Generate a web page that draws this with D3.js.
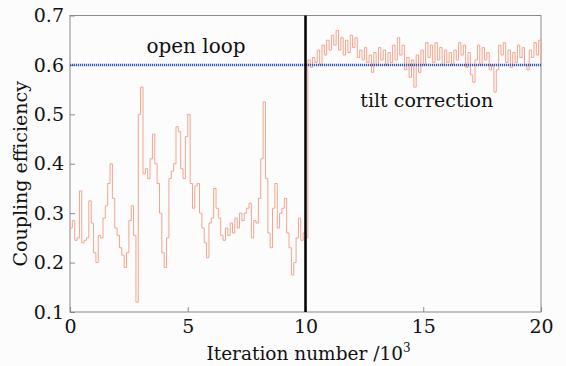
<!DOCTYPE html>
<html lang="en">
<head>
<meta charset="UTF-8">
<title>Coupling efficiency</title>
<script src="https://d3js.org/d3.v7.min.js"></script>
<style>
  body { margin: 0; background: #fcfcfc; }
  text { font-family: "DejaVu Serif", serif; fill: #111; }
</style>
</head>
<body>
<svg width="566" height="366"></svg>
<script>
// open loop, 0 .. 10 (x10^3 iterations), step 0.1
var openLoop = [0.27,0.285,0.245,0.25,0.345,0.24,0.245,0.25,0.325,0.28,
  0.22,0.20,0.255,0.25,0.29,0.315,0.36,0.40,0.33,0.27,
  0.255,0.23,0.215,0.19,0.22,0.285,0.315,0.255,0.12,0.50,
  0.555,0.38,0.39,0.37,0.41,0.46,0.40,0.36,0.30,0.22,
  0.19,0.25,0.37,0.385,0.40,0.475,0.465,0.39,0.37,0.455,
  0.50,0.36,0.31,0.355,0.36,0.30,0.27,0.24,0.21,0.28,
  0.29,0.35,0.31,0.29,0.255,0.245,0.27,0.255,0.28,0.26,
  0.29,0.27,0.30,0.285,0.30,0.31,0.32,0.25,0.285,0.28,
  0.33,0.41,0.525,0.37,0.26,0.23,0.31,0.36,0.27,0.30,
  0.31,0.33,0.26,0.23,0.175,0.20,0.25,0.29,0.245,0.26,0.25];
// tilt correction, 10.1 .. 20, step 0.1
var tiltCorr = [0.61,0.595,0.615,0.605,0.63,0.60,0.64,0.62,0.65,0.63,
  0.66,0.64,0.67,0.63,0.655,0.62,0.65,0.625,0.66,0.635,
  0.655,0.615,0.63,0.61,0.635,0.605,0.62,0.585,0.625,0.60,
  0.635,0.61,0.63,0.60,0.625,0.605,0.64,0.61,0.655,0.62,
  0.64,0.59,0.615,0.575,0.61,0.555,0.62,0.585,0.63,0.60,
  0.645,0.615,0.64,0.605,0.645,0.61,0.635,0.60,0.63,0.605,
  0.625,0.60,0.63,0.61,0.645,0.62,0.64,0.595,0.625,0.58,
  0.565,0.61,0.64,0.60,0.635,0.61,0.625,0.59,0.60,0.545,
  0.59,0.64,0.62,0.645,0.605,0.63,0.595,0.625,0.605,0.64,
  0.615,0.635,0.60,0.59,0.63,0.615,0.645,0.62,0.65,0.61];
var xTicks = [0, 5, 10, 15, 20];
var yTicks = [0.1, 0.2, 0.3, 0.4, 0.5, 0.6, 0.7];
var refLevel = 0.6;
var switchAt = 10;

var series = openLoop.map(function(v, i) { return [i * 0.1, v]; })
  .concat(tiltCorr.map(function(v, i) { return [10 + (i + 1) * 0.1, v]; }));

var margin = {top: 15.5, right: 25, bottom: 54, left: 70};
var svg = d3.select("svg");
var width = +svg.attr("width") - margin.left - margin.right;
var height = +svg.attr("height") - margin.top - margin.bottom;
var g = svg.append("g").attr("transform", "translate(" + margin.left + "," + margin.top + ")");

var x = d3.scaleLinear().domain([0, 20]).range([0, width]);
var y = d3.scaleLinear().domain([0.1, 0.7]).range([height, 0]);

// frame
g.append("rect").attr("width", width).attr("height", height)
  .attr("fill", "none").attr("stroke", "#8a8a8a").attr("stroke-width", 1);

var xAxis = g.append("g").attr("transform", "translate(0," + height + ")")
  .call(d3.axisBottom(x).tickValues(xTicks).tickSize(-5).tickPadding(8).tickFormat(d3.format("d")));
var yAxis = g.append("g")
  .call(d3.axisLeft(y).tickValues(yTicks).tickSize(-5).tickPadding(6).tickFormat(d3.format(".1f")));
[xAxis, yAxis].forEach(function(a) {
  a.attr("font-family", null);
  a.select(".domain").remove();
  a.selectAll("line").attr("stroke", "#8a8a8a");
  a.selectAll("text").attr("font-size", 19).attr("fill", "#111");
});

var line = d3.line().curve(d3.curveStepAfter)
  .x(function(d) { return x(d[0]); }).y(function(d) { return y(d[1]); });
g.append("path").datum(series).attr("d", line)
  .attr("fill", "none").attr("stroke", "#f4a48c").attr("stroke-width", 1);

g.append("line").attr("x1", x(0)).attr("x2", x(20)).attr("y1", y(refLevel)).attr("y2", y(refLevel))
  .attr("stroke", "#3558b8").attr("stroke-width", 2.5).attr("stroke-dasharray", "1.2,0.8");

g.append("line").attr("x1", x(switchAt)).attr("x2", x(switchAt)).attr("y1", y(0.1)).attr("y2", y(0.7))
  .attr("stroke", "#000").attr("stroke-width", 2.5);

g.append("text").attr("x", x(5.35)).attr("y", y(0.624)).attr("text-anchor", "middle")
  .attr("font-size", 20).text("open loop");
g.append("text").attr("x", x(15.15)).attr("y", y(0.515)).attr("text-anchor", "middle")
  .attr("font-size", 19).text("tilt correction");

svg.append("text").attr("x", margin.left + width / 2 + 3).attr("y", 360).attr("text-anchor", "middle")
  .attr("font-size", 18.5)
  .text("Iteration number /10")
  .append("tspan").attr("font-size", 12).attr("dy", -8).text("3");

svg.append("text").attr("transform", "translate(27," + (margin.top + height / 2 + 10) + ") rotate(-90)")
  .attr("text-anchor", "middle").attr("font-size", 19).text("Coupling efficiency");
</script>
</body>
</html>
